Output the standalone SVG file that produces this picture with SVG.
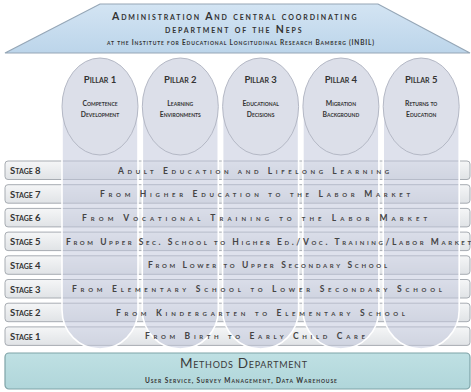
<svg xmlns="http://www.w3.org/2000/svg" width="471" height="392" viewBox="0 0 471 392">
<defs>
<linearGradient id="roofG" x1="0" y1="0" x2="0" y2="1">
<stop offset="0" stop-color="#d3e4f3"/>
<stop offset="1" stop-color="#bcd5ea"/>
</linearGradient>
<linearGradient id="rowG" x1="0" y1="0" x2="0" y2="1">
<stop offset="0" stop-color="#f5f6f7"/>
<stop offset="1" stop-color="#e0e3e6"/>
</linearGradient>
<linearGradient id="methG" x1="0" y1="0" x2="0" y2="1">
<stop offset="0" stop-color="#bfe0e3"/>
<stop offset="1" stop-color="#b0d6da"/>
</linearGradient>
</defs>
<style>
text{font-family:Lato,"Open Sans","Liberation Sans",sans-serif;font-variant:small-caps;fill:#333;font-weight:bold}
.roof{font-size:10.5px;letter-spacing:1.4px}
.roof3{font-size:6.5px}
.row{fill:url(#rowG);stroke:#a7acb2;stroke-width:1}
.col{fill:#c3c9dc;fill-opacity:0.55;stroke:#ffffff;stroke-width:1.6}
.cap{fill:#dcdfe9;stroke:#b4b8c5;stroke-width:1}
.pt{font-size:9.5px;text-anchor:middle}
.ps{font-size:6.8px;text-anchor:middle}
.sl{font-size:9.5px}
.st{font-size:8.5px;fill:#444}
</style>
<rect width="471" height="392" fill="#ffffff"/>
<g id="roof">
<polygon points="100,4 378,4 470,53 5,53" fill="url(#roofG)" stroke="#95a6b6" stroke-width="1.2"/>
<text class="roof" x="112" y="20" textLength="246" lengthAdjust="spacing">Administration And central coordinating</text>
<text class="roof" x="165" y="33" textLength="138" lengthAdjust="spacing">department of the Neps</text>
<text class="roof3" x="107" y="45" textLength="267" lengthAdjust="spacing">at the Institute for Educational Longitudinal Research Bamberg (INBIL)</text>
</g>
<g id="stages">
<rect class="row" x="5" y="161" width="465" height="18.5" rx="3"/>
<rect class="row" x="5" y="184.7" width="465" height="18.5" rx="3"/>
<rect class="row" x="5" y="208.4" width="465" height="18.5" rx="3"/>
<rect class="row" x="5" y="232.1" width="465" height="18.5" rx="3"/>
<rect class="row" x="5" y="255.8" width="465" height="18.5" rx="3"/>
<rect class="row" x="5" y="279.5" width="465" height="18.5" rx="3"/>
<rect class="row" x="5" y="303.2" width="465" height="18.5" rx="3"/>
<rect class="row" x="5" y="326.9" width="465" height="18.5" rx="3"/>
</g>
<g id="pillar1">
<path class="col" d="M62,106 L62,310 A38,39 0 0 0 138,310 L138,106 Z"/>
<ellipse class="cap" cx="100" cy="106.5" rx="38" ry="48.5"/>
<text class="pt" x="100" y="83">Pillar 1</text>
<text class="ps" x="100" y="106">Competence</text>
<text class="ps" x="100" y="117">Development</text>
</g>
<g id="pillar2">
<path class="col" d="M142.3,106 L142.3,310 A38,39 0 0 0 218.3,310 L218.3,106 Z"/>
<ellipse class="cap" cx="180.3" cy="106.5" rx="38" ry="48.5"/>
<text class="pt" x="180.3" y="83">Pillar 2</text>
<text class="ps" x="180.3" y="106">Learning</text>
<text class="ps" x="180.3" y="117">Environments</text>
</g>
<g id="pillar3">
<path class="col" d="M222.6,106 L222.6,310 A38,39 0 0 0 298.6,310 L298.6,106 Z"/>
<ellipse class="cap" cx="260.6" cy="106.5" rx="38" ry="48.5"/>
<text class="pt" x="260.6" y="83">Pillar 3</text>
<text class="ps" x="260.6" y="106">Educational</text>
<text class="ps" x="260.6" y="117">Decisions</text>
</g>
<g id="pillar4">
<path class="col" d="M302.9,106 L302.9,310 A38,39 0 0 0 378.9,310 L378.9,106 Z"/>
<ellipse class="cap" cx="340.9" cy="106.5" rx="38" ry="48.5"/>
<text class="pt" x="340.9" y="83">Pillar 4</text>
<text class="ps" x="340.9" y="106">Migration</text>
<text class="ps" x="340.9" y="117">Background</text>
</g>
<g id="pillar5">
<path class="col" d="M383.2,106 L383.2,310 A38,39 0 0 0 459.2,310 L459.2,106 Z"/>
<ellipse class="cap" cx="421.2" cy="106.5" rx="38" ry="48.5"/>
<text class="pt" x="421.2" y="83">Pillar 5</text>
<text class="ps" x="421.2" y="106">Returns to</text>
<text class="ps" x="421.2" y="117">Education</text>
</g>
<g id="stage-labels">
<text class="sl" x="10" y="174">Stage 8</text>
<text class="sl" x="10" y="197.7">Stage 7</text>
<text class="sl" x="10" y="221.4">Stage 6</text>
<text class="sl" x="10" y="245.1">Stage 5</text>
<text class="sl" x="10" y="268.8">Stage 4</text>
<text class="sl" x="10" y="292.5">Stage 3</text>
<text class="sl" x="10" y="316.2">Stage 2</text>
<text class="sl" x="10" y="339.9">Stage 1</text>
</g>
<g id="stage-texts">
<text class="st" x="118" y="173.5" textLength="271" lengthAdjust="spacing">Adult Education and Lifelong Learning</text>
<text class="st" x="100" y="197.2" textLength="310" lengthAdjust="spacing">From Higher Education to the Labor Market</text>
<text class="st" x="82" y="220.9" textLength="345" lengthAdjust="spacing">From Vocational Training to the Labor Market</text>
<text class="st" x="66" y="244.6" textLength="405" lengthAdjust="spacing">From Upper Sec. School to Higher Ed./Voc. Training/Labor Market</text>
<text class="st" x="148" y="268.3" textLength="239" lengthAdjust="spacing">From Lower to Upper Secondary School</text>
<text class="st" x="72" y="292" textLength="370" lengthAdjust="spacing">From Elementary School to Lower Secondary School</text>
<text class="st" x="116" y="315.7" textLength="289" lengthAdjust="spacing">From Kindergarten to Elementary School</text>
<text class="st" x="145" y="339.4" textLength="220" lengthAdjust="spacing">From Birth to Early Child Care</text>
</g>
<g id="methods">
<rect x="5" y="353" width="465" height="36" rx="4" fill="url(#methG)" stroke="#7fa3a7" stroke-width="1.2"/>
<text x="180" y="368" font-size="13.5" font-weight="normal" style="font-weight:normal;fill:#3a3a3a" textLength="127" lengthAdjust="spacing">Methods Department</text>
<text x="145" y="383" font-size="6.5" textLength="192" lengthAdjust="spacing">User Service, Survey Management, Data Warehouse</text>
</g>
</svg>
